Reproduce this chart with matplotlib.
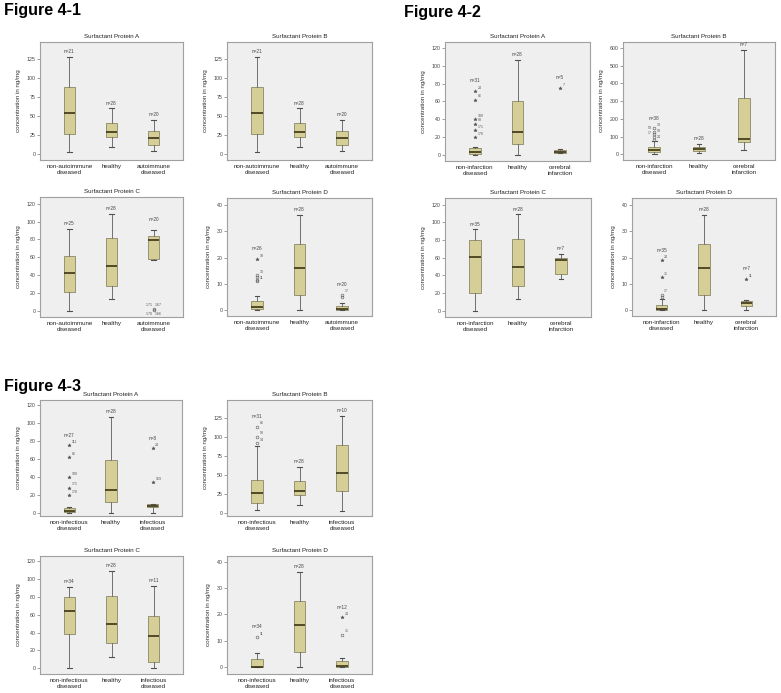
import matplotlib
matplotlib.use("Agg")
import matplotlib.pyplot as plt

plt.rcParams["font.family"] = ["Liberation Sans", "DejaVu Sans"]

W, H = 781, 693

groups_41 = ["non-autoimmune\ndiseased", "healthy", "autoimmune\ndiseased"]
groups_42 = ["non-infarction\ndiseased", "healthy", "cerebral\ninfarction"]
groups_43 = ["non-infectious\ndiseased", "healthy", "infectious\ndiseased"]

# outliers: (value, case label, symbol, where the label goes)
# ---- Figure 4-1 ----
f41a_n = [21, 28, 20]
f41a_lo = [3, 10, 4]
f41a_q1 = [27, 23, 12]
f41a_med = [54, 29, 21]
f41a_q3 = [88, 41, 30]
f41a_hi = [127, 60, 45]
f41a_out = [[], [], []]
f41a_ticks = [0, 25, 50, 75, 100, 125]
f41a_ylim = [-7.5, 147]

f41b_n = [21, 28, 20]
f41b_lo = [3, 10, 4]
f41b_q1 = [27, 23, 12]
f41b_med = [54, 29, 21]
f41b_q3 = [88, 41, 30]
f41b_hi = [127, 60, 45]
f41b_out = [[], [], []]
f41b_ticks = [0, 25, 50, 75, 100, 125]
f41b_ylim = [-7.5, 147]

f41c_n = [25, 28, 20]
f41c_lo = [0, 13, 57]
f41c_q1 = [21, 28, 58]
f41c_med = [42, 50, 79]
f41c_q3 = [61, 81, 83.5]
f41c_hi = [92, 109, 91]
f41c_out = [[], [], [(2.0, "171   167", "o", "a"), (0.5, "170   166", "o", "b")]]
f41c_ticks = [0, 20, 40, 60, 80, 100, 120]
f41c_ylim = [-7, 127.5]

f41d_n = [26, 28, 20]
f41d_lo = [0, 0, 0]
f41d_q1 = [0.4, 6, 0.1]
f41d_med = [1.2, 16, 0.5]
f41d_q3 = [3.5, 25, 1.5]
f41d_hi = [5.5, 36, 3]
f41d_out = [[(19.5, "18", "*", "r"), (13.5, "13", "o", "r"), (12.5, "", "o", "r"),
             (11.5, "", "o", "r"), (11, "11", "o", "r")],
            [], [(6, "17", "o", "r"), (5, "", "o", "r")]]
f41d_ticks = [0, 10, 20, 30, 40]
f41d_ylim = [-2.1, 42.5]

# ---- Figure 4-2 ----
f42a_n = [31, 28, 5]
f42a_lo = [0, 0, 1.5]
f42a_q1 = [1, 12, 1.5]
f42a_med = [3, 25, 3]
f42a_q3 = [7, 60, 5.7]
f42a_hi = [9, 107, 6]
f42a_out = [[(72, "24", "*", "r"), (62, "86", "*", "r"), (40, "189", "*", "r"), (35, "98", "*", "r"),
             (28, "171", "*", "r"), (20, "170", "*", "r")], [], [(75, "7", "*", "r")]]
f42a_ticks = [0, 20, 40, 60, 80, 100, 120]
f42a_ylim = [-7.2, 127]

f42b_n = [38, 28, 7]
f42b_lo = [0, 9, 22]
f42b_q1 = [11, 21, 68]
f42b_med = [24.5, 30, 85]
f42b_q3 = [41, 40, 320]
f42b_hi = [75, 58, 588]
f42b_out = [[(147, "13", "o", "r"), (128, "53", "o", "l"), (113, "98", "o", "r"),
             (100, "17", "o", "l"), (81, "24", "o", "r")],
            [], []]
f42b_ticks = [0, 100, 200, 300, 400, 500, 600]
f42b_ylim = [-32, 634]

f42c_n = [35, 28, 7]
f42c_lo = [0, 13, 36]
f42c_q1 = [20, 28, 42]
f42c_med = [61, 50, 57.5]
f42c_q3 = [80, 81, 60]
f42c_hi = [92, 109, 64]
f42c_out = [[], [], []]
f42c_ticks = [0, 20, 40, 60, 80, 100, 120]
f42c_ylim = [-7, 127.5]

f42d_n = [35, 28, 7]
f42d_lo = [0, 0, 0]
f42d_q1 = [0.2, 6, 1.5]
f42d_med = [0.5, 16, 3]
f42d_q3 = [1.9, 25, 3.5]
f42d_hi = [4.4, 36, 3.8]
f42d_out = [[(19, "24", "*", "r"), (12.5, "31", "*", "r"), (6, "17", "o", "r"), (5, "", "o", "r")],
            [], [(12, "11", "*", "r")]]
f42d_ticks = [0, 10, 20, 30, 40]
f42d_ylim = [-2.1, 42.5]

# ---- Figure 4-3 ----
f43a_n = [27, 28, 8]
f43a_lo = [0, 0, 0]
f43a_q1 = [0.5, 12, 6]
f43a_med = [2, 25.5, 7]
f43a_q3 = [5, 59, 9.3]
f43a_hi = [6, 107, 9.5]
f43a_out = [[(75, "111", "*", "r"), (62, "86", "*", "r"), (40, "189", "*", "r"),
             (28, "171", "*", "r"), (20, "170", "*", "r")],
            [], [(71.6, "24", "*", "r"), (34, "169", "*", "r")]]
f43a_ticks = [0, 20, 40, 60, 80, 100, 120]
f43a_ylim = [-3.7, 125.6]

f43b_n = [31, 28, 10]
f43b_lo = [4, 10, 2]
f43b_q1 = [13, 23, 28]
f43b_med = [26, 29, 52]
f43b_q3 = [43, 41, 89]
f43b_hi = [87, 60, 127]
f43b_out = [[(113, "86", "o", "r"), (100, "90", "o", "r"), (91, "14", "o", "r")], [], []]
f43b_ticks = [0, 25, 50, 75, 100, 125]
f43b_ylim = [-4.4, 148]

f43c_n = [34, 28, 11]
f43c_lo = [0, 13, 0]
f43c_q1 = [39, 28, 6.7]
f43c_med = [64.5, 50, 36]
f43c_q3 = [80, 81, 59]
f43c_hi = [91, 109, 92]
f43c_out = [[], [], []]
f43c_ticks = [0, 20, 40, 60, 80, 100, 120]
f43c_ylim = [-6.4, 126]

f43d_n = [34, 28, 12]
f43d_lo = [0, 0, 0]
f43d_q1 = [0.1, 6, 0.1]
f43d_med = [0.3, 16, 0.5]
f43d_q3 = [3, 25, 2.5]
f43d_hi = [5.3, 36, 3.5]
f43d_out = [[(11.6, "11", "o", "r")], [], [(19, "24", "*", "r"), (12.4, "31", "o", "r")]]
f43d_ticks = [0, 10, 20, 30, 40]
f43d_ylim = [-2.5, 42.1]

fig = plt.figure(figsize=(W / 100, H / 100), dpi=100)
fig.patch.set_facecolor("white")


def box_panel(px, title, groups, n, lo, q1, med, q3, hi, outs, ticks, ylim):
    l, r, t, b = px
    ax = fig.add_axes([l / W, 1 - b / H, (r - l) / W, (b - t) / H])
    ax.set_facecolor("#efefef")
    stats = []
    for i in range(3):
        stats.append(dict(med=med[i], q1=q1[i], q3=q3[i], whislo=lo[i], whishi=hi[i], fliers=[]))
    ax.bxp(stats, positions=[1, 2, 3], widths=0.27, capwidths=0.1, patch_artist=True,
           showfliers=False,
           boxprops=dict(facecolor="#d5ce97", edgecolor="#8a8766", linewidth=0.6),
           medianprops=dict(color="#3a3514", linewidth=1.2),
           whiskerprops=dict(color="#707070", linewidth=0.7),
           capprops=dict(color="#505050", linewidth=0.8))
    rng = ylim[1] - ylim[0]
    for i in range(3):
        top = hi[i]
        for v, lab, sym, side in outs[i]:
            if sym == "*":
                ax.plot(i + 1, v, marker="*", ms=2.6, color="#555555", mew=0.3)
            else:
                ax.plot(i + 1, v, marker="o", ms=2.0, mfc="none", mec="#555555", mew=0.4)
            if lab:
                if side == "r":
                    ax.text(i + 1.06, v + 0.01 * rng, lab, fontsize=2.6, color="#555555",
                            va="bottom", ha="left")
                elif side == "l":
                    ax.text(i + 0.94, v + 0.01 * rng, lab, fontsize=2.6, color="#555555",
                            va="bottom", ha="right")
                elif side == "a":
                    ax.text(i + 1, v + 0.015 * rng, lab, fontsize=2.6, color="#555555",
                            va="bottom", ha="center")
                else:
                    ax.text(i + 1, v - 0.015 * rng, lab, fontsize=2.6, color="#555555",
                            va="top", ha="center")
            top = max(top, v)
        off = 0.085 * rng if outs[i] else 0.045 * rng
        ax.text(i + 1, top + off, "n=%d" % n[i], fontsize=3.4, color="#444444",
                ha="center", va="center")
    ax.set_xlim(0.3, 3.7)
    ax.set_ylim(ylim)
    ax.set_yticks(ticks)
    ax.set_yticklabels([str(t) for t in ticks], fontsize=3.8, color="#444444")
    ax.set_xticks([1, 2, 3])
    ax.set_xticklabels(groups, fontsize=4.5, color="#222222", linespacing=1.25)
    ax.tick_params(axis="y", length=2, width=0.5, color="#777777", pad=1)
    ax.tick_params(axis="x", length=0, pad=3)
    for s in ax.spines.values():
        s.set_color("#a0a0a0")
        s.set_linewidth(0.8)
    ax.set_title(title, fontsize=4.5, color="#222222", pad=3)
    ax.set_ylabel("concentration in ng/mg", fontsize=4.5, color="#333333", labelpad=4)
    return ax


box_panel((40, 183, 42, 160), "Surfactant Protein A", groups_41, f41a_n, f41a_lo, f41a_q1,
          f41a_med, f41a_q3, f41a_hi, f41a_out, f41a_ticks, f41a_ylim)
box_panel((227, 372, 42, 160), "Surfactant Protein B", groups_41, f41b_n, f41b_lo, f41b_q1,
          f41b_med, f41b_q3, f41b_hi, f41b_out, f41b_ticks, f41b_ylim)
box_panel((40, 183, 197, 317), "Surfactant Protein C", groups_41, f41c_n, f41c_lo, f41c_q1,
          f41c_med, f41c_q3, f41c_hi, f41c_out, f41c_ticks, f41c_ylim)
box_panel((227, 372, 198, 316), "Surfactant Protein D", groups_41, f41d_n, f41d_lo, f41d_q1,
          f41d_med, f41d_q3, f41d_hi, f41d_out, f41d_ticks, f41d_ylim)

box_panel((445, 590, 42, 161), "Surfactant Protein A", groups_42, f42a_n, f42a_lo, f42a_q1,
          f42a_med, f42a_q3, f42a_hi, f42a_out, f42a_ticks, f42a_ylim)
box_panel((623, 775, 42, 160), "Surfactant Protein B", groups_42, f42b_n, f42b_lo, f42b_q1,
          f42b_med, f42b_q3, f42b_hi, f42b_out, f42b_ticks, f42b_ylim)
box_panel((445, 591, 198, 317), "Surfactant Protein C", groups_42, f42c_n, f42c_lo, f42c_q1,
          f42c_med, f42c_q3, f42c_hi, f42c_out, f42c_ticks, f42c_ylim)
box_panel((632, 776, 198, 316), "Surfactant Protein D", groups_42, f42d_n, f42d_lo, f42d_q1,
          f42d_med, f42d_q3, f42d_hi, f42d_out, f42d_ticks, f42d_ylim)

box_panel((40, 182, 400, 516), "Surfactant Protein A", groups_43, f43a_n, f43a_lo, f43a_q1,
          f43a_med, f43a_q3, f43a_hi, f43a_out, f43a_ticks, f43a_ylim)
box_panel((227, 372, 400, 516), "Surfactant Protein B", groups_43, f43b_n, f43b_lo, f43b_q1,
          f43b_med, f43b_q3, f43b_hi, f43b_out, f43b_ticks, f43b_ylim)
box_panel((40, 183, 556, 674), "Surfactant Protein C", groups_43, f43c_n, f43c_lo, f43c_q1,
          f43c_med, f43c_q3, f43c_hi, f43c_out, f43c_ticks, f43c_ylim)
box_panel((227, 372, 556, 674), "Surfactant Protein D", groups_43, f43d_n, f43d_lo, f43d_q1,
          f43d_med, f43d_q3, f43d_hi, f43d_out, f43d_ticks, f43d_ylim)

fig.text(4 / W, 1 - 11 / H, "Figure 4-1", fontsize=11.5, fontweight="bold", va="center")
fig.text(404 / W, 1 - 12 / H, "Figure 4-2", fontsize=11.5, fontweight="bold", va="center")
fig.text(4 / W, 1 - 387 / H, "Figure 4-3", fontsize=11.5, fontweight="bold", va="center")

fig.savefig("out.png", dpi=100, facecolor="white")
